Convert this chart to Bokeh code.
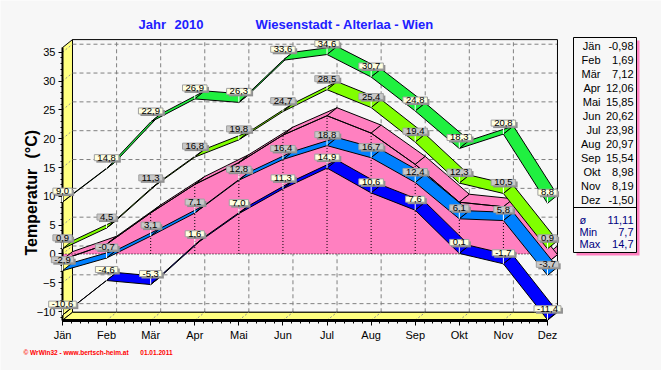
from bokeh.plotting import figure
from bokeh.models import Range1d, LinearAxis, FixedTicker, ColumnDataSource
from bokeh.embed import file_html
from bokeh.resources import INLINE
from bokeh.core.properties import value

# ---------------- data ----------------
months = ["Jän", "Feb", "Mär", "Apr", "Mai", "Jun", "Jul", "Aug", "Sep", "Okt", "Nov", "Dez"]
max_abs = [9.0, 14.8, 22.9, 26.9, 26.3, 33.6, 34.6, 30.7, 24.8, 18.3, 20.8, 8.8]
mean_max = [0.9, 4.5, 11.3, 16.8, 19.8, 24.7, 28.5, 25.4, 19.4, 12.3, 10.5, 0.9]
mean = [-0.98, 1.69, 7.12, 12.06, 15.85, 20.62, 23.98, 20.97, 15.54, 8.98, 8.19, -1.50]
mean_min = [-2.9, -0.7, 3.1, 7.1, 12.8, 16.4, 18.8, 16.7, 12.4, 6.1, 5.8, -3.7]
min_abs = [-10.6, -4.6, -5.3, 1.6, 7.0, 11.3, 14.9, 10.6, 7.6, 0.1, -1.7, -11.4]
stat_names = ["ø", "Min", "Max"]
stat_texts = ["11,11", "7,7", "14,7"]
y_ticks = [-10, -5, 0, 5, 10, 15, 20, 25, 30, 35]

# ---------------- layout / style ----------------
W, H = 661, 370
BG = "#f7f7f7"
YELLOW = "#ffff80"
PINK = "#ff80c0"
CREAM = "#ffffe0"
GRAY = "#c8c8c8"
FONT = "Liberation Sans"
DX, DY = 0.2268, 1.3877          # 3D depth offset (10px right, 8px up)
FLOOR, TOP = -11.5, 35.8
idx = list(range(len(months)))
XR = idx[-1]


def fmt1(v):
    return f"{v:.1f}".replace(".", ",")


def fmt2(v):
    return f"{v:.2f}".replace(".", ",")


p = figure(width=W, height=H, x_range=Range1d(-1.4062, 13.586), y_range=Range1d(-20.208, 43.97),
           output_backend="svg", toolbar_location=None, x_axis_location=None, y_axis_location=None,
           min_border=0, background_fill_color=BG, border_fill_color=BG, outline_line_color=None)
p.grid.visible = False
p.extra_x_ranges = {"px": Range1d(0, W)}
p.extra_y_ranges = {"px": Range1d(H, 0)}
PX = dict(x_range_name="px", y_range_name="px")

# back wall grid
p.segment(x0=[DX] * len(y_ticks), x1=[XR + DX] * len(y_ticks), y0=[t + DY for t in y_ticks],
          y1=[t + DY for t in y_ticks], line_color="#808080", line_dash="4 3", line_width=1)
p.segment(x0=[i + DX for i in idx[1:-1]], x1=[i + DX for i in idx[1:-1]],
          y0=[FLOOR + DY] * (len(idx) - 2), y1=[TOP + DY] * (len(idx) - 2),
          line_color="#808080", line_dash="4 3", line_width=1)
# back wall frame
p.quad(left=[DX], right=[XR + DX], bottom=[FLOOR + DY], top=[TOP + DY], fill_color=None,
       line_color="black", line_width=1)
# left wall and floor
p.patch([0, DX, DX, 0], [FLOOR, FLOOR + DY, TOP + DY, TOP], fill_color=YELLOW, line_color="black", line_width=1)
p.patch([0, XR, XR + DX, DX], [FLOOR, FLOOR, FLOOR + DY, FLOOR + DY], fill_color=YELLOW,
        line_color="black", line_width=1)
p.segment(x0=[0] * len(y_ticks), x1=[DX] * len(y_ticks), y0=y_ticks, y1=[t + DY for t in y_ticks],
          line_color="#909090", line_dash="2 2")
p.segment(x0=idx[1:-1], x1=[i + DX for i in idx[1:-1]], y0=[FLOOR] * (len(idx) - 2),
          y1=[FLOOR + DY] * (len(idx) - 2), line_color="#909090", line_dash="2 2")

# pink mean area (3D)
p.patch(idx + [XR, 0], mean + [0, 0], fill_color=PINK, line_color=None)
p.patch([XR, XR, XR + DX, XR + DX], [0, mean[-1], mean[-1] + DY, DY], fill_color=PINK,
        line_color="black", line_width=1)
p.patches([[i, i + 1, i + 1 + DX, i + DX] for i in idx[:-1]],
          [[mean[i], mean[i + 1], mean[i + 1] + DY, mean[i] + DY] for i in idx[:-1]],
          fill_color=PINK, line_color="black", line_width=1)
p.line(idx, mean, line_color="black", line_width=1)
p.segment(x0=idx[1:-1], x1=idx[1:-1], y0=[0] * (len(idx) - 2), y1=mean[1:-1],
          line_color="black", line_dash="1 2", line_width=1)
p.line([0, XR], [0, 0], line_color="black", line_dash="1 2", line_width=1)


def ribbon(vals, color):
    xs = [[i, i + 1, i + 1 + DX, i + DX] for i in idx[:-1]]
    ys = [[vals[i], vals[i + 1], vals[i + 1] + DY, vals[i] + DY] for i in idx[:-1]]
    p.patches(xs, ys, fill_color=color, line_color="black", line_width=1)


ribbon(max_abs, "#20f040")
ribbon(mean_max, "#80ff00")
ribbon(mean_min, "#0080ff")
ribbon(min_abs, "#0000ff")

PTR = 8 / 5.765


def labels(vals, bg):
    src = ColumnDataSource(dict(x=idx, y=vals, y2=[v + PTR for v in vals], t=[fmt1(v) for v in vals]))
    p.segment(x0="x", x1="x", y0="y", y1="y2", source=src, line_color="white", line_width=1, level="overlay")
    common = dict(x="x", y="y", text="t", source=src, text_align="center", text_baseline="bottom",
                  text_font=value(FONT), text_font_size="9.5px", level="overlay",
                  padding=dict(left=3, right=3, top=0, bottom=0))
    p.text(x_offset=2, y_offset=-6, text_alpha=0, background_fill_color="#909090", **common)
    p.text(x_offset=0, y_offset=-8, text_color="black", background_fill_color=bg,
           border_line_color="#a0a0a0", **common)


labels(max_abs, CREAM)
labels(mean_max, GRAY)
labels(mean_min, GRAY)
labels(min_abs, CREAM)

# axes
yax = LinearAxis(fixed_location=0, bounds=(FLOOR, TOP),
                 ticker=FixedTicker(ticks=y_ticks, minor_ticks=list(range(-11, 36))),
                 axis_line_width=2, axis_line_color="black", major_tick_out=4, major_tick_in=0,
                 minor_tick_out=2, minor_tick_in=0, major_label_standoff=3,
                 major_label_text_font=FONT, major_label_text_font_size="11px",
                 major_label_text_color="black")
p.add_layout(yax, "left")
xax = LinearAxis(fixed_location=FLOOR, bounds=(0, XR),
                 ticker=FixedTicker(ticks=idx, minor_ticks=[i / 5 for i in range(5 * XR + 1)]),
                 major_label_overrides={i: m for i, m in enumerate(months)},
                 axis_line_width=3, axis_line_color="black", major_tick_out=5, major_tick_in=0,
                 minor_tick_out=3, minor_tick_in=0, major_label_standoff=4,
                 major_label_text_font=FONT, major_label_text_font_size="11px",
                 major_label_text_color="black")
p.add_layout(xax, "below")

# titles
TBLUE = "#2020ff"
tkw = dict(text_font=value(FONT), text_font_style="bold", text_font_size="13px", text_color=TBLUE,
           text_baseline="middle", **PX)
p.text(x=[138], y=[24], text=["Jahr"], **tkw)
p.text(x=[174], y=[24], text=["2010"], **tkw)
p.text(x=[255], y=[24], text=["Wiesenstadt - Alterlaa - Wien"], **tkw)
ykw = dict(text_font=value(FONT), text_font_style="bold", text_font_size="16px", text_color="black",
           text_baseline="middle", angle=1.5708, **PX)
p.text(x=[31], y=[255], text=["Temperatur"], **ykw)
p.text(x=[31], y=[158], text=["(°C)"], **ykw)
fkw = dict(text_font=value(FONT), text_font_style="bold", text_font_size="6.5px", text_color="#ff0000",
           text_baseline="middle", **PX)
p.text(x=[23], y=[352], text=["© WrWin32 - www.bertsch-heim.at"], text_align="left", **fkw)
p.text(x=[172], y=[352], text=["01.01.2011"], text_align="right", **fkw)

# table
p.quad(left=[576], right=[639], top=[40], bottom=[255], fill_color=PINK, line_color=None, **PX)
p.quad(left=[573], right=[636], top=[37], bottom=[252], fill_color=BG, line_color="black", line_width=1, **PX)
p.segment(x0=[573], x1=[636], y0=[207], y1=[207], line_color="black", line_width=1, **PX)
row_y = [45 + 14 * i for i in idx]
rkw = dict(text_font=value(FONT), text_font_size="11px", text_baseline="middle", text_align="right", **PX)
p.text(x=[600] * len(idx), y=row_y, text=months, text_color="black", **rkw)
p.text(x=[633] * len(idx), y=row_y, text=[fmt2(v) for v in mean], text_color="black", **rkw)
stat_y = [219, 231, 243]
p.text(x=[633] * 3, y=stat_y, text=stat_texts, text_color="#000080", **rkw)
p.text(x=[579] * 3, y=stat_y, text=stat_names, text_color="#000080", text_font=value(FONT),
       text_font_size="11px", text_baseline="middle", text_align="left", **PX)

open("out.html", "w").write(file_html(p, INLINE))
